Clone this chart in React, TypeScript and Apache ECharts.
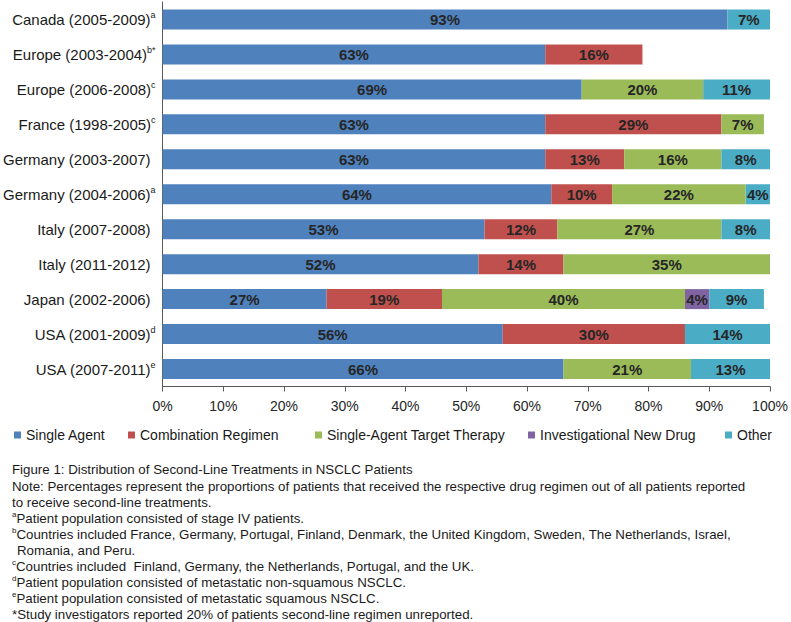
import React, { useEffect, useRef } from "react";
import * as echarts from "echarts";

const categories = [
  "Canada (2005-2009)",
  "Europe (2003-2004)",
  "Europe (2006-2008)",
  "France (1998-2005)",
  "Germany (2003-2007)",
  "Germany (2004-2006)",
  "Italy (2007-2008)",
  "Italy (2011-2012)",
  "Japan (2002-2006)",
  "USA (2001-2009)",
  "USA (2007-2011)",
];
const superscripts = ["a", "b*", "c", "c", "", "a", "", "", "", "d", "e"];

const seriesNames = [
  "Single Agent",
  "Combination Regimen",
  "Single-Agent Target Therapy",
  "Investigational New Drug",
  "Other",
];
const singleAgent = [93, 63, 69, 63, 63, 64, 53, 52, 27, 56, 66];
const combinationRegimen = [0, 16, 0, 29, 13, 10, 12, 14, 19, 30, 0];
const targetTherapy = [0, 0, 20, 7, 16, 22, 27, 35, 40, 0, 21];
const investigational = [0, 0, 0, 0, 0, 0, 0, 0, 4, 0, 0];
const other = [7, 0, 11, 0, 8, 4, 8, 0, 9, 14, 13];

const colors = ["#4F81BD", "#C0504D", "#9BBB59", "#8064A2", "#4BACC6"];
const legendLefts = [14, 128, 315, 528, 725];

const footnotes: { sup: string; text: string; y: number; x: number }[] = [
  { sup: "", text: "Figure 1: Distribution of Second-Line Treatments in NSCLC Patients", y: 469, x: 12 },
  { sup: "", text: "Note: Percentages represent the proportions of patients that received the respective drug regimen out of all patients reported", y: 486, x: 12 },
  { sup: "", text: "to receive second-line treatments.", y: 502, x: 12 },
  { sup: "a", text: "Patient population consisted of stage IV patients.", y: 518, x: 12 },
  { sup: "b", text: "Countries included France, Germany, Portugal, Finland, Denmark, the United Kingdom, Sweden, The Netherlands, Israel,", y: 534, x: 12 },
  { sup: "", text: "Romania, and Peru.", y: 550, x: 17 },
  { sup: "c", text: "Countries included  Finland, Germany, the Netherlands, Portugal, and the UK.", y: 566, x: 12 },
  { sup: "d", text: "Patient population consisted of metastatic non-squamous NSCLC.", y: 582, x: 12 },
  { sup: "e", text: "Patient population consisted of metastatic squamous NSCLC.", y: 598, x: 12 },
  { sup: "", text: "*Study investigators reported 20% of patients second-line regimen unreported.", y: 614, x: 12 },
];

const FONT = "Liberation Sans, Arial, sans-serif";

export default function App() {
  const ref = useRef<HTMLDivElement>(null);
  useEffect(() => {
    document.body.style.margin = "0";
    if (!ref.current) return;
    const chart = echarts.init(ref.current, null, { renderer: "svg" });
    const seriesData = [singleAgent, combinationRegimen, targetTherapy, investigational, other];
    chart.setOption({
      animation: false,
      textStyle: { fontFamily: FONT },
      grid: { left: 160, right: 21, top: 2, bottom: 622 - 386.5, containLabel: false },
      xAxis: {
        type: "value",
        min: 0,
        max: 100,
        interval: 10,
        splitLine: { show: false },
        axisLine: { show: true, lineStyle: { color: "#595959", width: 1 } },
        axisTick: { show: true, length: 5, lineStyle: { color: "#595959" } },
        axisLabel: { formatter: "{value}%", fontSize: 14, color: "#262626", margin: 12, fontFamily: FONT },
      },
      yAxis: {
        type: "category",
        inverse: true,
        data: categories,
        axisTick: { show: false },
        axisLine: { show: true, lineStyle: { color: "#595959", width: 1 } },
        axisLabel: {
          margin: 7,
          formatter: (value: string, index: number) => {
            const s = superscripts[index];
            return s ? `{n|${value}}{s|${s}}` : `{n|${value}}{p| }`;
          },
          rich: {
            n: { fontSize: 15, color: "#1a1a1a", fontFamily: FONT, lineHeight: 17 },
            s: { fontSize: 9, color: "#1a1a1a", fontFamily: FONT, verticalAlign: "top", lineHeight: 10 },
            p: { fontSize: 8, width: 5 },
          },
        },
      },
      legend: seriesNames.map((name, i) => ({
        data: [name],
        left: legendLefts[i],
        top: 428,
        padding: 0,
        icon: "rect",
        itemWidth: 7,
        itemHeight: 7,
        selectedMode: false,
        textStyle: { fontSize: 14, color: "#1a1a1a", fontFamily: FONT },
      })),
      series: seriesNames.map((name, i) => ({
        name,
        type: "bar",
        stack: "total",
        barWidth: 20,
        data: seriesData[i],
        itemStyle: { color: colors[i] },
        label: {
          show: true,
          position: "inside",
          formatter: (p: any) => (p.value ? `${p.value}%` : ""),
          fontSize: 15,
          fontWeight: "bold",
          color: "#262626",
          fontFamily: FONT,
        },
      })),
      graphic: footnotes.map((f) => ({
        type: "text",
        x: f.x,
        y: f.y,
        style: {
          text: f.sup ? `{s|${f.sup}}{n|${f.text}}` : `{n|${f.text}}`,
          verticalAlign: "middle",
          rich: {
            n: { fontSize: 13.3, fill: "#1a1a1a", fontFamily: FONT, lineHeight: 15 },
            s: { fontSize: 8, fill: "#1a1a1a", fontFamily: FONT, verticalAlign: "top", lineHeight: 9 },
          },
        },
      })),
    });
    return () => chart.dispose();
  }, []);
  return <div ref={ref} style={{ width: 791, height: 622 }} />;
}
